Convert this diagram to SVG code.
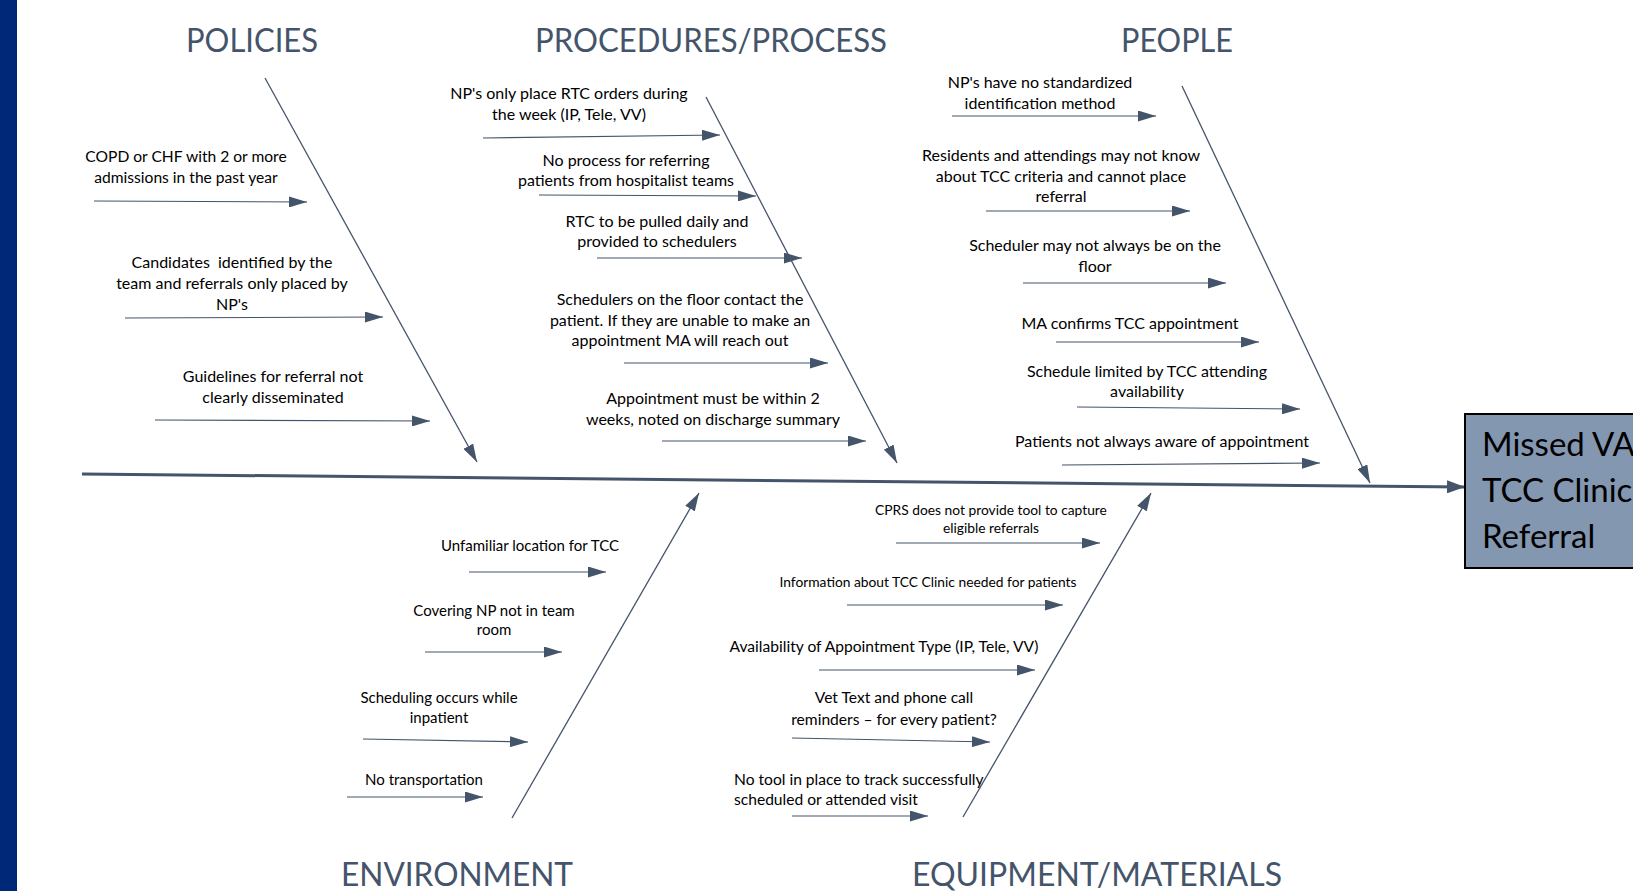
<svg xmlns="http://www.w3.org/2000/svg" width="1633" height="891" viewBox="0 0 1633 891">
  <defs>
    <marker id="head" markerUnits="userSpaceOnUse" markerWidth="18" markerHeight="11" refX="18" refY="5.5" orient="auto">
      <path d="M0,0 L18,5.5 L0,11 Z" fill="#44546A"/>
    </marker>
    <marker id="headBig" markerUnits="userSpaceOnUse" markerWidth="18" markerHeight="13" refX="18" refY="6.5" orient="auto">
      <path d="M0,0 L18,6.5 L0,13 Z" fill="#44546A"/>
    </marker>
    <style>
      .cat { font-family: Lato, "Liberation Sans", sans-serif; font-size: 33px; fill: #44546A; text-anchor: middle; }
      .lbl { font-family: Lato, "Liberation Sans", sans-serif; font-size: 16px; fill: #000; text-anchor: middle; }
      .md { font-size: 15.6px; }
      .sm { font-size: 15px; }
      .eq { font-size: 15.6px; }
      .xs { font-size: 13.8px; }
      .left { text-anchor: start; }
      .bone { stroke: #44546A; stroke-width: 1.3; fill: none; marker-end: url(#head); }
      .twig { stroke: #44546A; stroke-width: 1.2; fill: none; marker-end: url(#head); }
      .spine { stroke: #44546A; stroke-width: 3; fill: none; marker-end: url(#headBig); }
      .effect { fill: #8497B0; stroke: #000; stroke-width: 2; }
      .effect-text { font-family: Lato, "Liberation Sans", sans-serif; font-size: 33px; fill: #000; }
    </style>
  </defs>

  <rect width="1633" height="891" fill="#fff"/>
  <rect x="0" y="0" width="17" height="891" fill="#002878"/>

  <!-- spine, category bones and cause arrows -->
  <g id="connectors">
    <line class="spine" x1="82" y1="474" x2="1465" y2="487"/>

    <line class="bone" x1="265" y1="78" x2="477" y2="462"/>
    <line class="bone" x1="706" y1="97" x2="897" y2="463"/>
    <line class="bone" x1="1182" y1="86" x2="1370" y2="483"/>
    <line class="bone" x1="512" y1="818" x2="699" y2="493"/>
    <line class="bone" x1="963" y1="817" x2="1151" y2="493"/>

    <!-- policies -->
    <line class="twig" x1="94" y1="201" x2="307" y2="202"/>
    <line class="twig" x1="125" y1="318" x2="383" y2="317"/>
    <line class="twig" x1="155" y1="420" x2="430" y2="421"/>
    <!-- procedures / process -->
    <line class="twig" x1="483" y1="138" x2="720" y2="135"/>
    <line class="twig" x1="539" y1="195" x2="756" y2="196"/>
    <line class="twig" x1="597" y1="258" x2="802" y2="258"/>
    <line class="twig" x1="624" y1="363" x2="828" y2="363"/>
    <line class="twig" x1="662" y1="441" x2="866" y2="441"/>
    <!-- people -->
    <line class="twig" x1="952" y1="116" x2="1156" y2="116"/>
    <line class="twig" x1="986" y1="211" x2="1190" y2="211"/>
    <line class="twig" x1="1023" y1="283" x2="1226" y2="283"/>
    <line class="twig" x1="1056" y1="342" x2="1259" y2="342"/>
    <line class="twig" x1="1077" y1="407" x2="1300" y2="409"/>
    <line class="twig" x1="1062" y1="465" x2="1320" y2="463"/>
    <!-- environment -->
    <line class="twig" x1="469" y1="572" x2="606" y2="572"/>
    <line class="twig" x1="425" y1="652" x2="562" y2="652"/>
    <line class="twig" x1="363" y1="739" x2="528" y2="742"/>
    <line class="twig" x1="347" y1="797" x2="483" y2="797"/>
    <!-- equipment / materials -->
    <line class="twig" x1="896" y1="543" x2="1100" y2="543"/>
    <line class="twig" x1="847" y1="605" x2="1063" y2="605"/>
    <line class="twig" x1="819" y1="670" x2="1035" y2="670"/>
    <line class="twig" x1="792" y1="738" x2="990" y2="742"/>
    <line class="twig" x1="792" y1="816" x2="928" y2="816"/>
  </g>

  <!-- category headings -->
  <g id="cat-policies"><text class="cat" x="252" y="52" textLength="132" lengthAdjust="spacingAndGlyphs">POLICIES</text></g>
  <g id="cat-procedures"><text class="cat" x="711" y="52" textLength="352" lengthAdjust="spacingAndGlyphs">PROCEDURES/PROCESS</text></g>
  <g id="cat-people"><text class="cat" x="1177" y="52" textLength="112" lengthAdjust="spacingAndGlyphs">PEOPLE</text></g>
  <g id="cat-environment"><text class="cat" x="457" y="886" textLength="232" lengthAdjust="spacingAndGlyphs">ENVIRONMENT</text></g>
  <g id="cat-equipment"><text class="cat" x="1097" y="886" textLength="370" lengthAdjust="spacingAndGlyphs">EQUIPMENT/MATERIALS</text></g>

  <!-- policies causes -->
  <g id="pol-1"><text class="lbl md" x="186" y="162">COPD or CHF with 2 or more</text><text class="lbl md" x="186" y="183">admissions in the past year</text></g>
  <g id="pol-2"><text class="lbl" x="232" y="268" xml:space="preserve">Candidates  identified by the</text><text class="lbl" x="232" y="289">team and referrals only placed by</text><text class="lbl" x="232" y="310">NP's</text></g>
  <g id="pol-3"><text class="lbl" x="273" y="382">Guidelines for referral not</text><text class="lbl" x="273" y="403">clearly disseminated</text></g>

  <!-- procedures / process causes -->
  <g id="proc-1"><text class="lbl" x="569" y="99">NP's only place RTC orders during</text><text class="lbl" x="569" y="120">the week (IP, Tele, VV)</text></g>
  <g id="proc-2"><text class="lbl" x="626" y="166">No process for referring</text><text class="lbl" x="626" y="186">patients from hospitalist teams</text></g>
  <g id="proc-3"><text class="lbl" x="657" y="227">RTC to be pulled daily and</text><text class="lbl" x="657" y="247">provided to schedulers</text></g>
  <g id="proc-4"><text class="lbl" x="680" y="305">Schedulers on the floor contact the</text><text class="lbl" x="680" y="326">patient. If they are unable to make an</text><text class="lbl" x="680" y="346">appointment MA will reach out</text></g>
  <g id="proc-5"><text class="lbl" x="713" y="404">Appointment must be within 2</text><text class="lbl" x="713" y="425">weeks, noted on discharge summary</text></g>

  <!-- people causes -->
  <g id="ppl-1"><text class="lbl" x="1040" y="88">NP's have no standardized</text><text class="lbl" x="1040" y="109">identification method</text></g>
  <g id="ppl-2"><text class="lbl" x="1061" y="161">Residents and attendings may not know</text><text class="lbl" x="1061" y="182">about TCC criteria and cannot place</text><text class="lbl" x="1061" y="202">referral</text></g>
  <g id="ppl-3"><text class="lbl" x="1095" y="251">Scheduler may not always be on the</text><text class="lbl" x="1095" y="272">floor</text></g>
  <g id="ppl-4"><text class="lbl" x="1130" y="329">MA confirms TCC appointment</text></g>
  <g id="ppl-5"><text class="lbl" x="1147" y="377">Schedule limited by TCC attending</text><text class="lbl" x="1147" y="397">availability</text></g>
  <g id="ppl-6"><text class="lbl" x="1162" y="447">Patients not always aware of appointment</text></g>

  <!-- environment causes -->
  <g id="env-1"><text class="lbl sm" x="530" y="551">Unfamiliar location for TCC</text></g>
  <g id="env-2"><text class="lbl sm" x="494" y="616">Covering NP not in team</text><text class="lbl sm" x="494" y="635">room</text></g>
  <g id="env-3"><text class="lbl sm" x="439" y="703">Scheduling occurs while</text><text class="lbl sm" x="439" y="723">inpatient</text></g>
  <g id="env-4"><text class="lbl sm" x="424" y="785">No transportation</text></g>

  <!-- equipment / materials causes -->
  <g id="eq-1"><text class="lbl xs" x="991" y="515">CPRS does not provide tool to capture</text><text class="lbl xs" x="991" y="533">eligible referrals</text></g>
  <g id="eq-2"><text class="lbl xs" x="928" y="587">Information about TCC Clinic needed for patients</text></g>
  <g id="eq-3"><text class="lbl eq" x="884" y="652">Availability of Appointment Type (IP, Tele, VV)</text></g>
  <g id="eq-4"><text class="lbl eq" x="894" y="703">Vet Text and phone call</text><text class="lbl eq" x="894" y="725">reminders – for every patient?</text></g>
  <g id="eq-5"><text class="lbl eq left" x="734" y="785">No tool in place to track successfully</text><text class="lbl eq left" x="734" y="805">scheduled or attended visit</text></g>

  <!-- effect box -->
  <g id="effect">
    <rect class="effect" x="1465" y="414" width="200" height="154"/>
    <text class="effect-text" x="1482" y="456">Missed VA</text>
    <text class="effect-text" x="1482" y="502">TCC Clinic</text>
    <text class="effect-text" x="1482" y="548">Referral</text>
  </g>
</svg>
